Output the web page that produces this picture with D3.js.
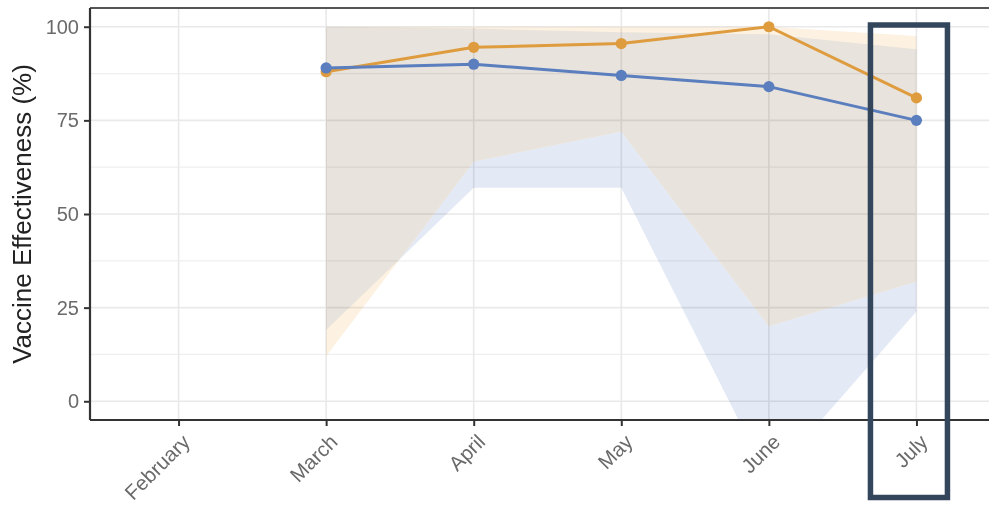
<!DOCTYPE html>
<html>
<head>
<meta charset="utf-8">
<script src="https://cdn.jsdelivr.net/npm/d3@7"></script>
<style>
  html, body { margin: 0; padding: 0; background: #ffffff; }
  svg { display: block; font-family: "Liberation Sans", Arial, Helvetica, sans-serif; }
</style>
</head>
<body>
<svg id="chart" width="989" height="505"></svg>
<script>
// Axis categories (months shown on the x axis)
const months = ["February", "March", "April", "May", "June", "July"];
// Months with estimates
const estMonths = ["March", "April", "May", "June", "July"];

// Blue series: point estimate and confidence band
const blueVE = [89, 90, 87, 84, 75];
const blueLower = [19, 57, 57, -21, 24];
const blueUpper = [100, 99.5, 98.5, 98, 94];

// Orange series: point estimate and confidence band
const orangeVE = [88, 94.5, 95.5, 100, 81];
const orangeLower = [12, 64, 72, 20, 32];
const orangeUpper = [100, 100, 100, 100, 97.5];

// Y axis ticks
const yTicks = [0, 25, 50, 75, 100];
const yMinor = [12.5, 37.5, 62.5, 87.5];

const W = 989, H = 505;
const panel = { left: 90, top: 8, bottom: 420, right: 1005 };

const svg = d3.select("#chart");

const x = d3.scaleLinear().domain([-0.6, months.length - 1 + 0.6]).range([panel.left, panel.right]);
const y = d3.scaleLinear().domain([-5, 105]).range([panel.bottom, panel.top]);
const xm = m => x(months.indexOf(m));

const colBlue = "#5a7ebe";
const colOrange = "#de9c3e";

// Clip for the plotting panel
const defs = svg.append("defs");
defs.append("clipPath").attr("id", "panelClip")
  .append("rect")
  .attr("x", panel.left).attr("y", panel.top)
  .attr("width", panel.right - panel.left).attr("height", panel.bottom - panel.top);

// Grid
const grid = svg.append("g");
grid.selectAll("line.minor").data(yMinor).join("line")
  .attr("x1", panel.left).attr("x2", panel.right)
  .attr("y1", d => y(d)).attr("y2", d => y(d))
  .attr("stroke", "#efefef").attr("stroke-width", 1.2);
grid.selectAll("line.major").data(yTicks).join("line")
  .attr("x1", panel.left).attr("x2", panel.right)
  .attr("y1", d => y(d)).attr("y2", d => y(d))
  .attr("stroke", "#e9e9e9").attr("stroke-width", 1.6);
grid.selectAll("line.vx").data(months).join("line")
  .attr("x1", d => xm(d)).attr("x2", d => xm(d))
  .attr("y1", panel.top).attr("y2", panel.bottom)
  .attr("stroke", "#e9e9e9").attr("stroke-width", 1.6);

// Confidence bands
const blueBand = estMonths.map((m, i) => ({ m, lo: blueLower[i], hi: blueUpper[i] }));
const orangeBand = estMonths.map((m, i) => ({ m, lo: orangeLower[i], hi: orangeUpper[i] }));
const area = d3.area().x(d => xm(d.m)).y0(d => y(d.lo)).y1(d => y(d.hi));

defs.append("clipPath").attr("id", "blueBandClip")
  .append("path").attr("d", area(blueBand));

const bands = svg.append("g")
  .attr("clip-path", "url(#panelClip)")
  .style("mix-blend-mode", "multiply")
  .style("isolation", "isolate");
bands.append("path").attr("d", area(blueBand)).attr("fill", "#e3e9f5");
bands.append("path").attr("d", area(orangeBand)).attr("fill", "#fdf2e2");
bands.append("path").attr("d", area(orangeBand)).attr("fill", "#e8e3dc")
  .attr("clip-path", "url(#blueBandClip)");

// Lines and points
const line = d3.line().x(d => xm(d.m)).y(d => y(d.v));
const orangePts = estMonths.map((m, i) => ({ m, v: orangeVE[i] }));
const bluePts = estMonths.map((m, i) => ({ m, v: blueVE[i] }));

const marks = svg.append("g").attr("clip-path", "url(#panelClip)");
marks.append("path").attr("d", line(orangePts)).attr("fill", "none")
  .attr("stroke", colOrange).attr("stroke-width", 3);
marks.selectAll("circle.o").data(orangePts).join("circle")
  .attr("cx", d => xm(d.m)).attr("cy", d => y(d.v)).attr("r", 5.6).attr("fill", colOrange);
marks.append("path").attr("d", line(bluePts)).attr("fill", "none")
  .attr("stroke", colBlue).attr("stroke-width", 3);
marks.selectAll("circle.b").data(bluePts).join("circle")
  .attr("cx", d => xm(d.m)).attr("cy", d => y(d.v)).attr("r", 5.6).attr("fill", colBlue);

// Panel top border
svg.append("line")
  .attr("x1", panel.left).attr("x2", panel.right)
  .attr("y1", panel.top).attr("y2", panel.top)
  .attr("stroke", "#555").attr("stroke-width", 1.8);

// Y axis
const yAxis = svg.append("g").attr("transform", `translate(${panel.left},0)`)
  .call(d3.axisLeft(y).tickValues(yTicks).tickSize(6).tickPadding(5));
yAxis.select(".domain").attr("d", `M0,${panel.top}V${panel.bottom}`)
  .attr("stroke", "#333").attr("stroke-width", 2.2);
yAxis.selectAll(".tick line").attr("stroke", "#333").attr("stroke-width", 2);
yAxis.selectAll(".tick text").attr("fill", "#6a6a6a").style("font-size", "20px")
  .attr("font-family", null);

// X axis
const xAxis = svg.append("g").attr("transform", `translate(0,${panel.bottom})`)
  .call(d3.axisBottom(x).tickValues(d3.range(months.length)).tickFormat(i => months[i]).tickSize(6));
xAxis.select(".domain").attr("d", `M${panel.left},0H${panel.right}`)
  .attr("stroke", "#333").attr("stroke-width", 2.2);
xAxis.selectAll(".tick line").attr("stroke", "#333").attr("stroke-width", 2);
xAxis.selectAll(".tick text")
  .attr("fill", "#6a6a6a").style("font-size", "20.5px").attr("font-family", null)
  .attr("text-anchor", "end")
  .attr("y", 0).attr("dy", "0.7em")
  .attr("transform", "translate(2,13) rotate(-45)");

// Y axis title
svg.append("text")
  .attr("transform", `translate(31,${(y(100) + y(0)) / 2}) rotate(-90)`)
  .attr("text-anchor", "middle")
  .attr("fill", "#222")
  .style("font-size", "26px")
  .text("Vaccine Effectiveness (%)");

// Highlight box around the latest month
svg.append("rect")
  .attr("x", xm("July") - 46).attr("y", 25)
  .attr("width", 77).attr("height", 472.5)
  .attr("fill", "none")
  .attr("stroke", "#34465c").attr("stroke-width", 5.5);
</script>
</body>
</html>
